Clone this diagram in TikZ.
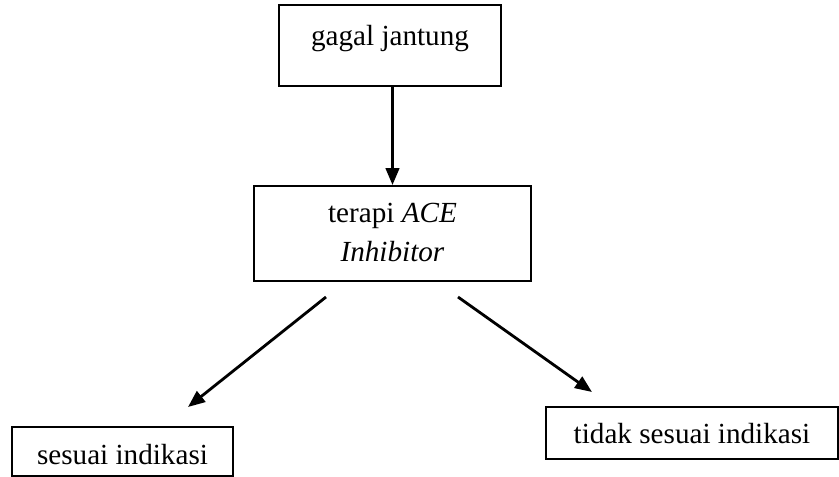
\documentclass[tikz,border=0pt]{standalone}
\usepackage{fontspec}
\setmainfont{Liberation Serif}
\usepackage{tikz}
\usetikzlibrary{arrows.meta}

\begin{document}
\begin{tikzpicture}[x=0.02cm, y=-0.02cm,
    box/.style={draw, line width=1.1pt, inner sep=0pt, align=center,
        font=\fontsize{16.6}{22.2}\selectfont},
    arr/.style={-{Triangle[length=0.34cm,width=0.27cm]}, line width=1.6pt}]
    \useasboundingbox (0,0) rectangle (839,477);
    \node[box, minimum width=4.44cm, text height=0.80cm, text depth=0.82cm] (gagal) at (390,45.5) {gagal jantung};
    \node[box, minimum width=5.54cm, text height=1.52cm, text depth=0.38cm] (terapi) at (392.5,233.5) {terapi \textit{ACE}\\\textit{Inhibitor}};
    \node[box, minimum width=4.42cm, text height=0.74cm, text depth=0.24cm] (sesuai) at (122.5,451.5) {sesuai indikasi};
    \node[box, minimum width=5.84cm, text height=0.72cm, text depth=0.32cm] (tidak) at (692,433) {tidak sesuai indikasi};
    \coordinate (l1) at (326,297);
    \coordinate (l2) at (188,407);
    \coordinate (r1) at (458,297);
    \coordinate (r2) at (592,392);
    \draw[arr] (gagal.south -| terapi.north) to (terapi.north);
    \draw[arr] (l1) to (l2);
    \draw[arr] (r1) to (r2);
\end{tikzpicture}
\end{document}
